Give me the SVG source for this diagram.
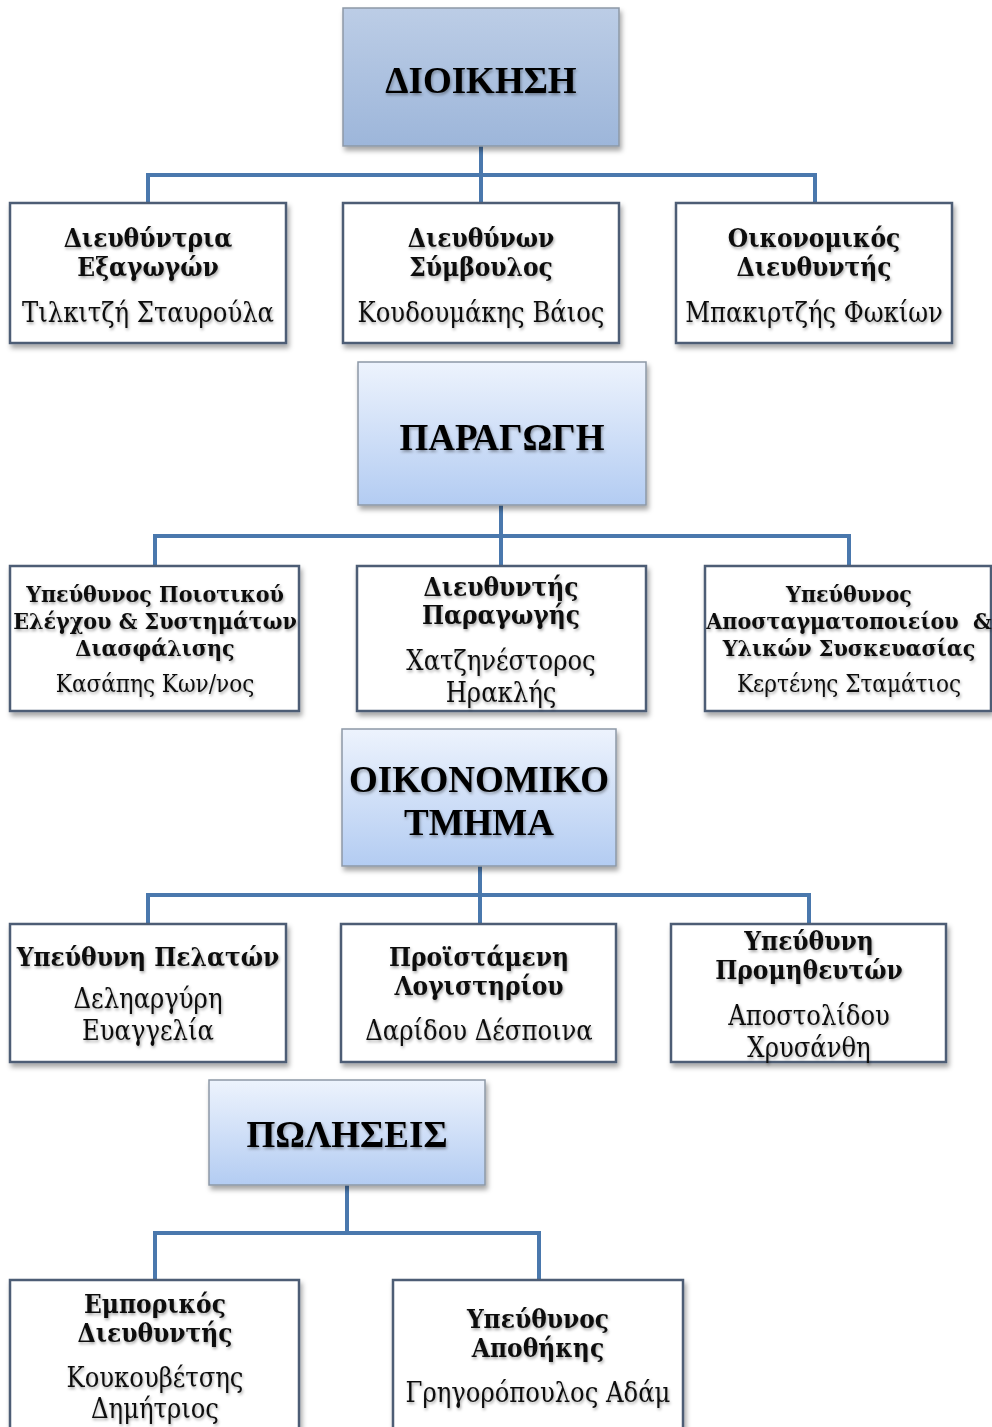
<svg xmlns="http://www.w3.org/2000/svg" width="992" height="1427" viewBox="0 0 992 1427">
<defs>
<linearGradient id="g1" x1="0" y1="0" x2="0" y2="1"><stop offset="0" stop-color="#bccde6"/><stop offset="1" stop-color="#9db6da"/></linearGradient>
<linearGradient id="g2" x1="0" y1="0" x2="0" y2="1"><stop offset="0" stop-color="#edf3fd"/><stop offset="1" stop-color="#b3ccf2"/></linearGradient>
<filter id="sh" x="-10%" y="-10%" width="120%" height="125%"><feDropShadow dx="2" dy="4" stdDeviation="2.5" flood-color="#000" flood-opacity="0.35"/></filter>
<filter id="tsh" x="-5%" y="-20%" width="110%" height="150%"><feDropShadow dx="1" dy="2" stdDeviation="1.5" flood-color="#000" flood-opacity="0.35"/></filter>
<style>
.hdr{stroke:#8d98a6;stroke-width:1.5;filter:url(#sh)}
.box{fill:#fff;stroke:#4d5d74;stroke-width:2.5;filter:url(#sh)}
.ht{font-family:"Liberation Serif","DejaVu Serif",serif;font-weight:bold;font-size:37px;fill:#000;text-anchor:middle;filter:url(#tsh)}
.t{font-family:"DejaVu Serif Condensed","DejaVu Serif",serif;font-stretch:condensed;font-weight:bold;font-size:26px;fill:#111;text-anchor:middle;filter:url(#tsh)}
.ts{font-family:"DejaVu Serif Condensed","DejaVu Serif",serif;font-stretch:condensed;font-weight:bold;font-size:23px;fill:#111;text-anchor:middle;filter:url(#tsh)}
.n{font-family:"DejaVu Serif Condensed","DejaVu Serif",serif;font-stretch:condensed;font-size:27px;fill:#111;text-anchor:middle;filter:url(#tsh)}
.ns{font-family:"DejaVu Serif Condensed","DejaVu Serif",serif;font-stretch:condensed;font-size:24px;fill:#111;text-anchor:middle;filter:url(#tsh)}
.c{fill:none;stroke:#4a78ad;stroke-width:4}
</style>
</defs>
<g id="connectors">
<path class="c" d="M481 146V203M148 203V175H815V203"/>
<path class="c" d="M501 505V566M155 566V536H849V566"/>
<path class="c" d="M480 866V924M148 924V895H809V924"/>
<path class="c" d="M347 1185V1233M155 1280V1233H539V1280"/>
</g>
<g id="dioikisi"><rect class="hdr" x="343" y="8" width="276" height="138" fill="url(#g1)"/><text class="ht" x="481" y="93">ΔΙΟΙΚΗΣΗ</text></g>
<g id="d1"><rect class="box" x="10" y="203" width="276" height="140"/><text class="t" x="148" y="247">Διευθύντρια</text><text class="t" x="148" y="276">Εξαγωγών</text><text class="n" x="148" y="322">Τιλκιτζή Σταυρούλα</text></g>
<g id="d2"><rect class="box" x="343" y="203" width="276" height="140"/><text class="t" x="481" y="247">Διευθύνων</text><text class="t" x="481" y="276">Σύμβουλος</text><text class="n" x="481" y="322">Κουδουμάκης Βάιος</text></g>
<g id="d3"><rect class="box" x="676" y="203" width="276" height="140"/><text class="t" x="814" y="247">Οικονομικός</text><text class="t" x="814" y="276">Διευθυντής</text><text class="n" x="814" y="322">Μπακιρτζής Φωκίων</text></g>
<g id="paragogi"><rect class="hdr" x="358" y="362" width="288" height="143" fill="url(#g2)"/><text class="ht" x="502" y="450">ΠΑΡΑΓΩΓΗ</text></g>
<g id="p1"><rect class="box" x="10" y="566" width="289" height="145"/><text class="ts" x="155" y="602">Υπεύθυνος Ποιοτικού</text><text class="ts" x="155" y="629">Ελέγχου &amp; Συστημάτων</text><text class="ts" x="155" y="656">Διασφάλισης</text><text class="ns" x="155" y="692">Κασάπης Κων/νος</text></g>
<g id="p2"><rect class="box" x="357" y="566" width="289" height="145"/><text class="t" x="501" y="596">Διευθυντής</text><text class="t" x="501" y="624">Παραγωγής</text><text class="n" x="501" y="670">Χατζηνέστορος</text><text class="n" x="501" y="702">Ηρακλής</text></g>
<g id="p3"><rect class="box" x="705" y="566" width="286" height="145"/><text class="ts" x="849" y="602">Υπεύθυνος</text><text class="ts" x="849" y="629" xml:space="preserve">Αποσταγματοποιείου  &amp;</text><text class="ts" x="849" y="656">Υλικών Συσκευασίας</text><text class="ns" x="849" y="692">Κερτένης Σταμάτιος</text></g>
<g id="oikonomiko"><rect class="hdr" x="342" y="729" width="274" height="137" fill="url(#g2)"/><text class="ht" x="479" y="792">ΟΙΚΟΝΟΜΙΚΟ</text><text class="ht" x="479" y="835">ΤΜΗΜΑ</text></g>
<g id="o1"><rect class="box" x="10" y="924" width="276" height="138"/><text class="t" x="148" y="966">Υπεύθυνη Πελατών</text><text class="n" x="148" y="1008">Δεληαργύρη</text><text class="n" x="148" y="1040">Ευαγγελία</text></g>
<g id="o2"><rect class="box" x="341" y="924" width="275" height="138"/><text class="t" x="479" y="966">Προϊστάμενη</text><text class="t" x="479" y="995">Λογιστηρίου</text><text class="n" x="479" y="1040">Δαρίδου Δέσποινα</text></g>
<g id="o3"><rect class="box" x="671" y="924" width="275" height="138"/><text class="t" x="809" y="950">Υπεύθυνη</text><text class="t" x="809" y="979">Προμηθευτών</text><text class="n" x="809" y="1025">Αποστολίδου</text><text class="n" x="809" y="1057">Χρυσάνθη</text></g>
<g id="poliseis"><rect class="hdr" x="209" y="1080" width="276" height="105" fill="url(#g2)"/><text class="ht" x="347" y="1147">ΠΩΛΗΣΕΙΣ</text></g>
<g id="s1"><rect class="box" x="10" y="1280" width="289" height="160"/><text class="t" x="155" y="1313">Εμπορικός</text><text class="t" x="155" y="1342">Διευθυντής</text><text class="n" x="155" y="1387">Κουκουβέτσης</text><text class="n" x="155" y="1418">Δημήτριος</text></g>
<g id="s2"><rect class="box" x="393" y="1280" width="290" height="160"/><text class="t" x="538" y="1328">Υπεύθυνος</text><text class="t" x="538" y="1357">Αποθήκης</text><text class="n" x="538" y="1402">Γρηγορόπουλος Αδάμ</text></g>
</svg>
